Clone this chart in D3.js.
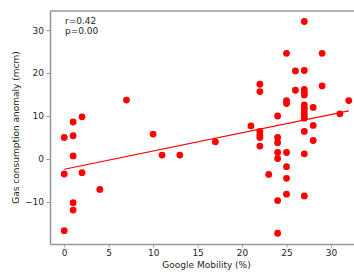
<!DOCTYPE html>
<html>
<head>
<meta charset="utf-8">
<script src="https://cdn.jsdelivr.net/npm/d3@7"></script>
<style>
  body { margin: 0; background: #fff; }
  svg { display: block; }
  text { font-family: "DejaVu Sans", sans-serif; fill: #262626; }
</style>
</head>
<body>
<div id="chart"></div>
<script>
// Google mobility (%) vs gas consumption anomaly (mcm)
const mobility = [0, 0, 0, 1, 1, 1, 1, 1, 2, 2, 4, 7, 10, 11, 13, 17, 21,
    22, 22, 22, 22, 22, 22, 23, 24, 24, 24, 24, 24, 24, 24,
    25, 25, 25, 25, 25, 25, 25, 26, 26,
    27, 27, 27, 27, 27, 27, 27, 27, 27, 27, 27, 27, 27,
    28, 28, 28, 29, 29, 31, 32];
const anomaly = [5.0, -3.5, -16.7, 5.4, 8.6, 0.7, -10.2, -11.9, 9.8, -3.2, -7.1, 13.7, 5.8, 0.9, 0.9, 4.0, 7.7,
    17.4, 15.7, 6.4, 5.6, 5.0, 3.0, -3.6, 10.0, 5.0, 3.8, 1.5, 0.1, -9.7, -17.3,
    24.6, 13.6, 12.9, 1.5, -1.8, -4.5, -8.2, 20.5, 16.0,
    32.0, 20.6, 16.2, 15.4, 14.9, 12.6, 11.8, 11.0, 10.2, 9.5, 6.4, 1.2, -8.6,
    12.0, 7.8, 4.3, 24.6, 17.0, 10.5, 13.6];

// fitted line, end points
const fitX = [0, 32];
const fitY = [-2.4, 11.2];

const xTicks = [0, 5, 10, 15, 20, 25, 30];
const yTicks = [-10, 0, 10, 20, 30];
const statLines = ["r=0.42", "p=0.00"];

const width = 354, height = 276;
const margin = { left: 50, top: 11 };
const plotW = 313, plotH = 233;

const svg = d3.select("#chart").append("svg")
    .attr("width", width)
    .attr("height", height);

const g = svg.append("g")
    .attr("transform", `translate(${margin.left},${margin.top})`);

const x = d3.scaleLinear().domain([-1.6, 33.6]).range([0, plotW]);
const y = d3.scaleLinear().domain([-19.8, 34.45]).range([plotH, 0]);

const axisColor = "#999";

// axes
const xAxis = g.append("g")
    .attr("transform", `translate(0,${plotH})`)
    .call(d3.axisBottom(x).tickValues(xTicks).tickSizeInner(3.5).tickSizeOuter(0).tickPadding(2.5));
const yAxis = g.append("g")
    .call(d3.axisLeft(y).tickValues(yTicks).tickSizeInner(3.5).tickSizeOuter(0).tickPadding(2.5)
        .tickFormat(d => d < 0 ? "\u2212" + Math.abs(d) : d));

[xAxis, yAxis].forEach(a => {
    a.selectAll("text").style("font-size", "9px").attr("fill", "#262626");
    a.selectAll("line").attr("stroke", axisColor);
    a.select(".domain").attr("stroke", axisColor).attr("stroke-width", 1.6);
});

// top spine
g.append("line")
    .attr("x1", 0).attr("x2", plotW)
    .attr("y1", 0).attr("y2", 0)
    .attr("stroke", axisColor)
    .attr("stroke-width", 1.6);

// points
const pts = mobility.map((m, i) => ({ m: m, a: anomaly[i] }));
g.selectAll(".dot")
    .data(pts)
    .enter()
    .append("circle")
    .attr("class", "dot")
    .attr("cx", d => x(d.m))
    .attr("cy", d => y(d.a))
    .attr("r", 3.4)
    .attr("fill", "#ff0000");

// regression line
g.append("line")
    .attr("x1", x(fitX[0])).attr("y1", y(fitY[0]))
    .attr("x2", x(fitX[1])).attr("y2", y(fitY[1]))
    .attr("stroke", "#ff0000")
    .attr("stroke-width", 1.2);

// r / p annotation
g.append("text")
    .attr("x", 15)
    .attr("y", 13)
    .style("font-size", "9px")
    .selectAll("tspan")
    .data(statLines)
    .enter()
    .append("tspan")
    .attr("x", 15)
    .attr("dy", (d, i) => i === 0 ? 0 : 9.5)
    .text(d => d);

// axis labels
svg.append("text")
    .attr("x", margin.left + plotW / 2)
    .attr("y", 268)
    .attr("text-anchor", "middle")
    .style("font-size", "9px")
    .text("Google Mobility (%)");

svg.append("text")
    .attr("transform", `translate(19,${margin.top + plotH / 2}) rotate(-90)`)
    .attr("text-anchor", "middle")
    .style("font-size", "9px")
    .text("Gas consumption anomaly (mcm)");
</script>
</body>
</html>
